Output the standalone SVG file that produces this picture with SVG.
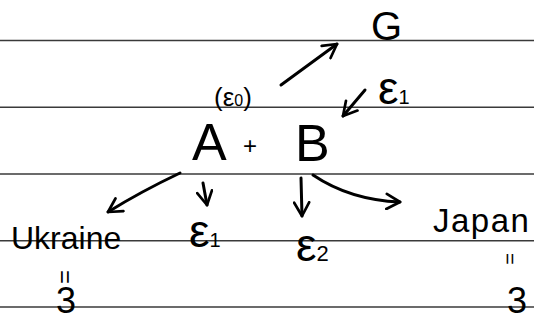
<svg xmlns="http://www.w3.org/2000/svg" width="534" height="322" viewBox="0 0 534 322">
<defs>
<style>
.rule{stroke:#3a3a3a;stroke-width:1.4;fill:none}
.t{font-family:"Liberation Sans","DejaVu Sans",sans-serif;fill:#000}
.c{stroke:#000;stroke-width:3;fill:none;stroke-linecap:round;stroke-linejoin:round}
</style>
<marker id="ah" viewBox="0 0 12 12" refX="10" refY="6" markerWidth="6" markerHeight="6" orient="auto" markerUnits="strokeWidth">
<path d="M1,1 L10,6 L1,11" fill="none" stroke="#000" stroke-width="1.8" stroke-linecap="round" stroke-linejoin="round"/>
</marker>
</defs>
<rect width="534" height="322" fill="#fff"/>
<g id="rules">
<line class="rule" x1="0" y1="40.5" x2="534" y2="40.5"/>
<line class="rule" x1="0" y1="107.3" x2="534" y2="107.3"/>
<line class="rule" x1="0" y1="174" x2="534" y2="174"/>
<line class="rule" x1="0" y1="240.7" x2="534" y2="240.7"/>
<line class="rule" x1="0" y1="307" x2="534" y2="307"/>
</g>
<g id="connectors">
<path class="c" d="M281,85 L337,44" marker-end="url(#ah)"/>
<path class="c" d="M365,90 L343,116" marker-end="url(#ah)"/>
<path class="c" d="M180,173 Q140,192 108,212" marker-end="url(#ah)"/>
<path class="c" d="M203,183 L207,205" marker-end="url(#ah)"/>
<path class="c" d="M301,178 L302,216" marker-end="url(#ah)"/>
<path class="c" d="M313,175 Q350,200 400,202" marker-end="url(#ah)"/>
</g>
<g id="node-G"><text class="t" x="371" y="40" font-size="40">G</text></g>
<g id="node-AB">
<text class="t" x="192" y="160" font-size="52">A</text>
<text class="t" x="243" y="154" font-size="24">+</text>
<text class="t" x="295" y="161" font-size="52">B</text>
</g>
<g id="node-eps0"><text class="t" x="214" y="106" font-size="26">(ε<tspan font-size="16">0</tspan>)</text></g>
<g id="node-eps1-top"><text class="t" x="378" y="104" font-size="46">ε<tspan font-size="20">1</tspan></text></g>
<g id="node-ukraine">
<text class="t" x="11" y="249" font-size="32">Ukraine</text>
<text class="t" x="0" y="0" font-size="24" transform="translate(57,270) rotate(90)">=</text>
<text class="t" x="56" y="313" font-size="36">3</text>
</g>
<g id="node-eps1"><text class="t" x="189" y="247" font-size="46">ε<tspan font-size="20">1</tspan></text></g>
<g id="node-eps2"><text class="t" x="296" y="261" font-size="46">ε<tspan font-size="22">2</tspan></text></g>
<g id="node-japan">
<text class="t" x="433" y="232" font-size="33" letter-spacing="1.5">Japan</text>
<text class="t" x="0" y="0" font-size="20" transform="translate(503,253) rotate(90)">=</text>
<text class="t" x="507" y="313" font-size="36">3</text>
</g>
</svg>
